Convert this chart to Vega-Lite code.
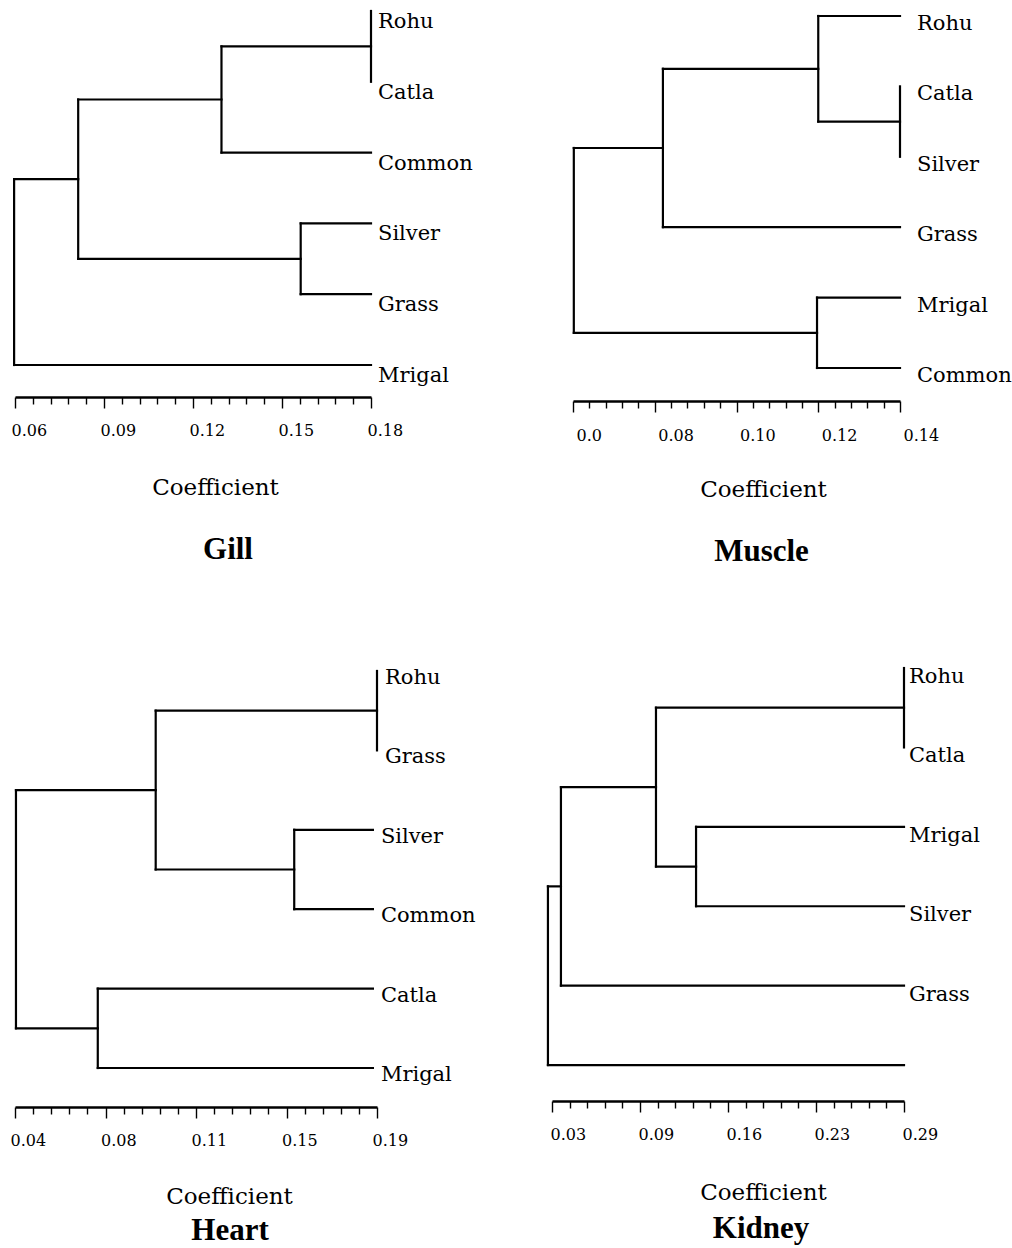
{
  "$schema": "https://vega.github.io/schema/vega-lite/v6.json",
  "padding": {"left": 10, "top": 0, "right": 0, "bottom": 0},
  "bounds": "full",
  "spacing": 83,
  "config": {
    "view": {"stroke": null},
    "axis": {"domainColor": "black", "domainWidth": 2.3, "tickColor": "black", "tickWidth": 1.4, "labelColor": "black", "titleColor": "black", "labelFont": "DejaVu Serif", "labelFontSize": 16, "titleFont": "DejaVu Serif", "titleFontSize": 23, "titleFontWeight": "normal", "labelPadding": 14, "labelOverlap": false, "labelBound": false, "labelFlush": false, "grid": false, "titleBaseline": "top", "labelAlign": "left", "tickCount": 21},
    "text": {"font": "DejaVu Serif", "fontSize": 21, "color": "black"},
    "title": {"font": "Liberation Serif", "fontSize": 31, "fontWeight": "bold", "color": "black"}
  },
  "datasets": {
    "gill_seg": [
      {"x": 0.18, "x2": 0.18, "y": 0, "y2": 1},
      {"x": 0.1296, "x2": 0.18, "y": 0.5, "y2": 0.5},
      {"x": 0.1296, "x2": 0.18, "y": 2, "y2": 2},
      {"x": 0.1296, "x2": 0.1296, "y": 0.5, "y2": 2},
      {"x": 0.0813, "x2": 0.1296, "y": 1.25, "y2": 1.25},
      {"x": 0.1563, "x2": 0.18, "y": 3, "y2": 3},
      {"x": 0.1563, "x2": 0.18, "y": 4, "y2": 4},
      {"x": 0.1563, "x2": 0.1563, "y": 3, "y2": 4},
      {"x": 0.0813, "x2": 0.1563, "y": 3.5, "y2": 3.5},
      {"x": 0.0813, "x2": 0.0813, "y": 1.25, "y2": 3.5},
      {"x": 0.0597, "x2": 0.0813, "y": 2.375, "y2": 2.375},
      {"x": 0.0597, "x2": 0.18, "y": 5, "y2": 5},
      {"x": 0.0597, "x2": 0.0597, "y": 2.375, "y2": 5}
    ],
    "gill_leaf": [
      {"name": "Rohu", "x": 0.18, "y": 0},
      {"name": "Catla", "x": 0.18, "y": 1},
      {"name": "Common", "x": 0.18, "y": 2},
      {"name": "Silver", "x": 0.18, "y": 3},
      {"name": "Grass", "x": 0.18, "y": 4},
      {"name": "Mrigal", "x": 0.18, "y": 5}
    ],
    "muscle_seg": [
      {"x": 0.12, "x2": 0.14, "y": 0, "y2": 0},
      {"x": 0.14, "x2": 0.14, "y": 1, "y2": 2},
      {"x": 0.12, "x2": 0.14, "y": 1.5, "y2": 1.5},
      {"x": 0.12, "x2": 0.12, "y": 0, "y2": 1.5},
      {"x": 0.082, "x2": 0.12, "y": 0.75, "y2": 0.75},
      {"x": 0.082, "x2": 0.14, "y": 3, "y2": 3},
      {"x": 0.082, "x2": 0.082, "y": 0.75, "y2": 3},
      {"x": 0.0602, "x2": 0.082, "y": 1.875, "y2": 1.875},
      {"x": 0.1197, "x2": 0.14, "y": 4, "y2": 4},
      {"x": 0.1197, "x2": 0.14, "y": 5, "y2": 5},
      {"x": 0.1197, "x2": 0.1197, "y": 4, "y2": 5},
      {"x": 0.0602, "x2": 0.1197, "y": 4.5, "y2": 4.5},
      {"x": 0.0602, "x2": 0.0602, "y": 1.875, "y2": 4.5}
    ],
    "muscle_leaf": [
      {"name": "Rohu", "x": 0.14, "y": 0},
      {"name": "Catla", "x": 0.14, "y": 1},
      {"name": "Silver", "x": 0.14, "y": 2},
      {"name": "Grass", "x": 0.14, "y": 3},
      {"name": "Mrigal", "x": 0.14, "y": 4},
      {"name": "Common", "x": 0.14, "y": 5}
    ],
    "heart_seg": [
      {"x": 0.19, "x2": 0.19, "y": 0, "y2": 1},
      {"x": 0.0983, "x2": 0.19, "y": 0.5, "y2": 0.5},
      {"x": 0.1557, "x2": 0.1883, "y": 2, "y2": 2},
      {"x": 0.1557, "x2": 0.1883, "y": 3, "y2": 3},
      {"x": 0.1557, "x2": 0.1557, "y": 2, "y2": 3},
      {"x": 0.0983, "x2": 0.1557, "y": 2.5, "y2": 2.5},
      {"x": 0.0983, "x2": 0.0983, "y": 0.5, "y2": 2.5},
      {"x": 0.0404, "x2": 0.0983, "y": 1.5, "y2": 1.5},
      {"x": 0.0743, "x2": 0.1883, "y": 4, "y2": 4},
      {"x": 0.0743, "x2": 0.1883, "y": 5, "y2": 5},
      {"x": 0.0743, "x2": 0.0743, "y": 4, "y2": 5},
      {"x": 0.0404, "x2": 0.0743, "y": 4.5, "y2": 4.5},
      {"x": 0.0404, "x2": 0.0404, "y": 1.5, "y2": 4.5}
    ],
    "heart_leaf": [
      {"name": "Rohu", "x": 0.19, "y": 0},
      {"name": "Grass", "x": 0.19, "y": 1},
      {"name": "Silver", "x": 0.1883, "y": 2},
      {"name": "Common", "x": 0.1883, "y": 3},
      {"name": "Catla", "x": 0.1883, "y": 4},
      {"name": "Mrigal", "x": 0.1883, "y": 5}
    ],
    "kidney_seg": [
      {"x": 0.29, "x2": 0.29, "y": 0, "y2": 1},
      {"x": 0.1068, "x2": 0.29, "y": 0.5, "y2": 0.5},
      {"x": 0.1364, "x2": 0.29, "y": 2, "y2": 2},
      {"x": 0.1364, "x2": 0.29, "y": 3, "y2": 3},
      {"x": 0.1364, "x2": 0.1364, "y": 2, "y2": 3},
      {"x": 0.1068, "x2": 0.1364, "y": 2.5, "y2": 2.5},
      {"x": 0.1068, "x2": 0.1068, "y": 0.5, "y2": 2.5},
      {"x": 0.0366, "x2": 0.1068, "y": 1.5, "y2": 1.5},
      {"x": 0.0366, "x2": 0.29, "y": 4, "y2": 4},
      {"x": 0.0366, "x2": 0.0366, "y": 1.5, "y2": 4},
      {"x": 0.027, "x2": 0.0366, "y": 2.75, "y2": 2.75},
      {"x": 0.027, "x2": 0.29, "y": 5, "y2": 5},
      {"x": 0.027, "x2": 0.027, "y": 2.75, "y2": 5}
    ],
    "kidney_leaf": [
      {"name": "Rohu", "x": 0.29, "y": 0},
      {"name": "Catla", "x": 0.29, "y": 1},
      {"name": "Mrigal", "x": 0.29, "y": 2},
      {"name": "Silver", "x": 0.29, "y": 3},
      {"name": "Grass", "x": 0.29, "y": 4}
    ]
  },
  "vconcat": [
    {
      "bounds": "flush",
      "spacing": 202,
      "hconcat": [
        {
          "width": 356, "height": 397,
          "title": {"text": "Gill", "orient": "bottom", "frame": "group", "anchor": "middle", "dx": 35, "offset": 36},
          "layer": [
            {
              "data": {"name": "gill_seg"},
              "mark": {"type": "rule", "strokeWidth": 2.2, "color": "black", "strokeCap": "square"},
              "encoding": {
                "x": {"field": "x", "type": "quantitative", "title": "Coefficient",
                  "scale": {"domain": [0.06, 0.18], "nice": false, "zero": false},
                  "axis": {
                    "values": [0.06, 0.066, 0.072, 0.078, 0.084, 0.09, 0.096, 0.102, 0.108, 0.114, 0.12, 0.126, 0.132, 0.138, 0.144, 0.15, 0.156, 0.162, 0.168, 0.174, 0.18],
                    "tickCount": 21,
                    "labelExpr": "round(datum.index*20) % 5 == 0 ? ['0.06','0.09','0.12','0.15','0.18'][round(datum.index*4)] : ''",
                    "tickSize": {"condition": {"test": "round(datum.index*20) % 5 == 0", "value": 11}, "value": 7},
                    "labelOffset": -4, "titleX": 200, "titleY": 79
                  }},
                "x2": {"field": "x2"},
                "y": {"field": "y", "type": "quantitative", "axis": null, "scale": {"domain": [-0.155, 5.452], "reverse": true, "nice": false, "zero": false}},
                "y2": {"field": "y2"}
              }
            },
            {
              "data": {"name": "gill_leaf"},
              "mark": {"type": "text", "align": "left", "baseline": "top", "dx": 7, "dy": 0},
              "encoding": {
                "x": {"field": "x", "type": "quantitative", "title": "Coefficient"},
                "y": {"field": "y", "type": "quantitative", "axis": null},
                "text": {"field": "name"}
              }
            }
          ]
        },
        {
          "width": 327, "height": 401,
          "title": {"text": "Muscle", "orient": "bottom", "frame": "group", "anchor": "middle", "dx": 25, "offset": 36},
          "layer": [
            {
              "data": {"name": "muscle_seg"},
              "mark": {"type": "rule", "strokeWidth": 2.2, "color": "black", "strokeCap": "square"},
              "encoding": {
                "x": {"field": "x", "type": "quantitative", "title": "Coefficient",
                  "scale": {"domain": [0.06, 0.14], "nice": false, "zero": false},
                  "axis": {
                    "values": [0.06, 0.064, 0.068, 0.072, 0.076, 0.08, 0.084, 0.088, 0.092, 0.096, 0.1, 0.104, 0.108, 0.112, 0.116, 0.12, 0.124, 0.128, 0.132, 0.136, 0.14],
                    "tickCount": 21,
                    "labelExpr": "round(datum.index*20) % 5 == 0 ? ['0.0','0.08','0.10','0.12','0.14'][round(datum.index*4)] : ''",
                    "tickSize": {"condition": {"test": "round(datum.index*20) % 5 == 0", "value": 11}, "value": 7},
                    "labelOffset": 3, "labelPadding": 15, "titleX": 190, "titleY": 77
                  }},
                "x2": {"field": "x2"},
                "y": {"field": "y", "type": "quantitative", "axis": null, "scale": {"domain": [-0.227, 5.469], "reverse": true, "nice": false, "zero": false}},
                "y2": {"field": "y2"}
              }
            },
            {
              "data": {"name": "muscle_leaf"},
              "mark": {"type": "text", "align": "left", "baseline": "top", "dx": 17, "dy": -3},
              "encoding": {
                "x": {"field": "x", "type": "quantitative", "title": "Coefficient"},
                "y": {"field": "y", "type": "quantitative", "axis": null},
                "text": {"field": "name"}
              }
            }
          ]
        }
      ]
    },
    {
      "bounds": "flush",
      "spacing": 175,
      "hconcat": [
        {
          "width": 362, "height": 457,
          "title": {"text": "Heart", "orient": "bottom", "frame": "group", "anchor": "middle", "dx": 34, "offset": 8},
          "layer": [
            {
              "data": {"name": "heart_seg"},
              "mark": {"type": "rule", "strokeWidth": 2.2, "color": "black", "strokeCap": "square"},
              "encoding": {
                "x": {"field": "x", "type": "quantitative", "title": "Coefficient",
                  "scale": {"domain": [0.04, 0.19], "nice": false, "zero": false},
                  "axis": {
                    "values": [0.04, 0.0475, 0.055, 0.0625, 0.07, 0.0775, 0.085, 0.0925, 0.1, 0.1075, 0.115, 0.1225, 0.13, 0.1375, 0.145, 0.1525, 0.16, 0.1675, 0.175, 0.1825, 0.19],
                    "tickCount": 21,
                    "labelExpr": "round(datum.index*20) % 5 == 0 ? ['0.04','0.08','0.11','0.15','0.19'][round(datum.index*4)] : ''",
                    "tickSize": {"condition": {"test": "round(datum.index*20) % 5 == 0", "value": 11}, "value": 7},
                    "labelOffset": -5, "titleX": 214, "titleY": 78
                  }},
                "x2": {"field": "x2"},
                "y": {"field": "y", "type": "quantitative", "axis": null, "scale": {"domain": [-0.264, 5.491], "reverse": true, "nice": false, "zero": false}},
                "y2": {"field": "y2"}
              }
            },
            {
              "data": {"name": "heart_leaf"},
              "mark": {"type": "text", "align": "left", "baseline": "top", "dx": 8, "dy": -4},
              "encoding": {
                "x": {"field": "x", "type": "quantitative", "title": "Coefficient"},
                "y": {"field": "y", "type": "quantitative", "axis": null},
                "text": {"field": "name"}
              }
            }
          ]
        },
        {
          "width": 352, "height": 451,
          "title": {"text": "Kidney", "orient": "bottom", "frame": "group", "anchor": "middle", "dx": 33, "offset": 10},
          "layer": [
            {
              "data": {"name": "kidney_seg"},
              "mark": {"type": "rule", "strokeWidth": 2.2, "color": "black", "strokeCap": "square"},
              "encoding": {
                "x": {"field": "x", "type": "quantitative", "title": "Coefficient",
                  "scale": {"domain": [0.03, 0.29], "nice": false, "zero": false},
                  "axis": {
                    "values": [0.03, 0.043, 0.056, 0.069, 0.082, 0.095, 0.108, 0.121, 0.134, 0.147, 0.16, 0.173, 0.186, 0.199, 0.212, 0.225, 0.238, 0.251, 0.264, 0.277, 0.29],
                    "tickCount": 21,
                    "labelExpr": "round(datum.index*20) % 5 == 0 ? ['0.03','0.09','0.16','0.23','0.29'][round(datum.index*4)] : ''",
                    "tickSize": {"condition": {"test": "round(datum.index*20) % 5 == 0", "value": 11}, "value": 7},
                    "labelOffset": -2, "titleX": 211, "titleY": 80
                  }},
                "x2": {"field": "x2"},
                "y": {"field": "y", "type": "quantitative", "axis": null, "scale": {"domain": [-0.227, 5.453], "reverse": true, "nice": false, "zero": false}},
                "y2": {"field": "y2"}
              }
            },
            {
              "data": {"name": "kidney_leaf"},
              "mark": {"type": "text", "align": "left", "baseline": "top", "dx": 5, "dy": -2},
              "encoding": {
                "x": {"field": "x", "type": "quantitative", "title": "Coefficient"},
                "y": {"field": "y", "type": "quantitative", "axis": null},
                "text": {"field": "name"}
              }
            }
          ]
        }
      ]
    }
  ]
}
